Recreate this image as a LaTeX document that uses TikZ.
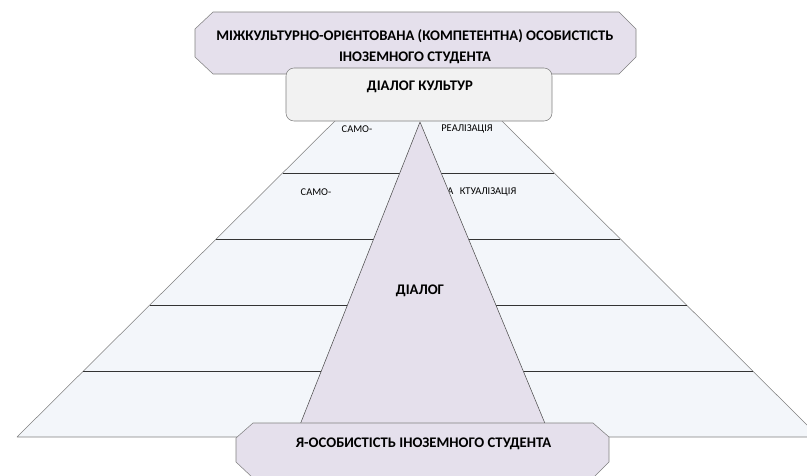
\documentclass[tikz,border=0pt]{standalone}
\usepackage{fontspec}
\setmainfont{Carlito}
\usetikzlibrary{calc}

\definecolor{lavender}{HTML}{E5E0EC}
\definecolor{paleblue}{HTML}{F3F6FA}
\definecolor{palegrey}{HTML}{F2F2F2}
\definecolor{edgegrey}{HTML}{808080}

\tikzset{
	bigtext/.style={font=\fontsize{11}{15.75}\selectfont\bfseries, align=center, inner sep=0pt},
	smalltext/.style={font=\fontsize{7.8}{9}\selectfont, inner sep=0pt},
}

\begin{document}
\begin{tikzpicture}[x=0.75pt, y=-0.75pt, line join=round]
\useasboundingbox (0,0) rectangle (807,475);
\clip (0,0) rectangle (807,475);
% pyramid with steps
\coordinate (bl) at (17,437);
\coordinate (br) at (819,437);
\coordinate (tl) at (349,107);
\coordinate (tr) at (488,107);
\draw [edgegrey, fill=paleblue] (bl) -- (br) -- (tr) -- (tl) -- cycle;
\foreach \t in {0.2,0.4,0.6,0.8}
	\draw [black!80, line width=0.75pt] ($(bl)!\t!(tl)$) -- ($(br)!\t!(tr)$);
\node [smalltext] (samoA) at (357,129) {САМО-};
\node [smalltext] (realiz) at (467,129) {РЕАЛІЗАЦІЯ};
\node [smalltext] (samoB) at (316,192) {САМО-};
\node [smalltext, anchor=west] (aktual) at (447,192) {А\hspace{5pt}КТУАЛІЗАЦІЯ};
% dialogue triangle
\draw [black!70, fill=lavender] (420,122) -- (556,450) -- (290,450) -- cycle;
\node [bigtext] (dialog) at (420,291) {ДІАЛОГ};
% bottom plate
\draw [edgegrey, fill=lavender] (253,423) -- (593,423) -- (609,437) -- (609,462) -- (593,478)
	-- (253,478) -- (236,462) -- (236,438) -- cycle;
\node [bigtext] (student) at (423.5,444) {Я-ОСОБИСТІСТЬ ІНОЗЕМНОГО СТУДЕНТА};
% top plate
\draw [edgegrey, fill=lavender] (213,12) -- (619,12) -- (636,29) -- (636,57) -- (619,74)
	-- (213,74) -- (195,57) -- (195,29) -- cycle;
\node [bigtext] (person) at (415,46.5) {МІЖКУЛЬТУРНО-ОРІЄНТОВАНА (КОМПЕТЕНТНА) ОСОБИСТІСТЬ\\ІНОЗЕМНОГО СТУДЕНТА};
\draw [edgegrey, fill=palegrey, rounded corners=6pt] (286,68) rectangle (552,121);
\node [bigtext] (culture) at (420,87) {ДІАЛОГ КУЛЬТУР};
\end{tikzpicture}
\end{document}
